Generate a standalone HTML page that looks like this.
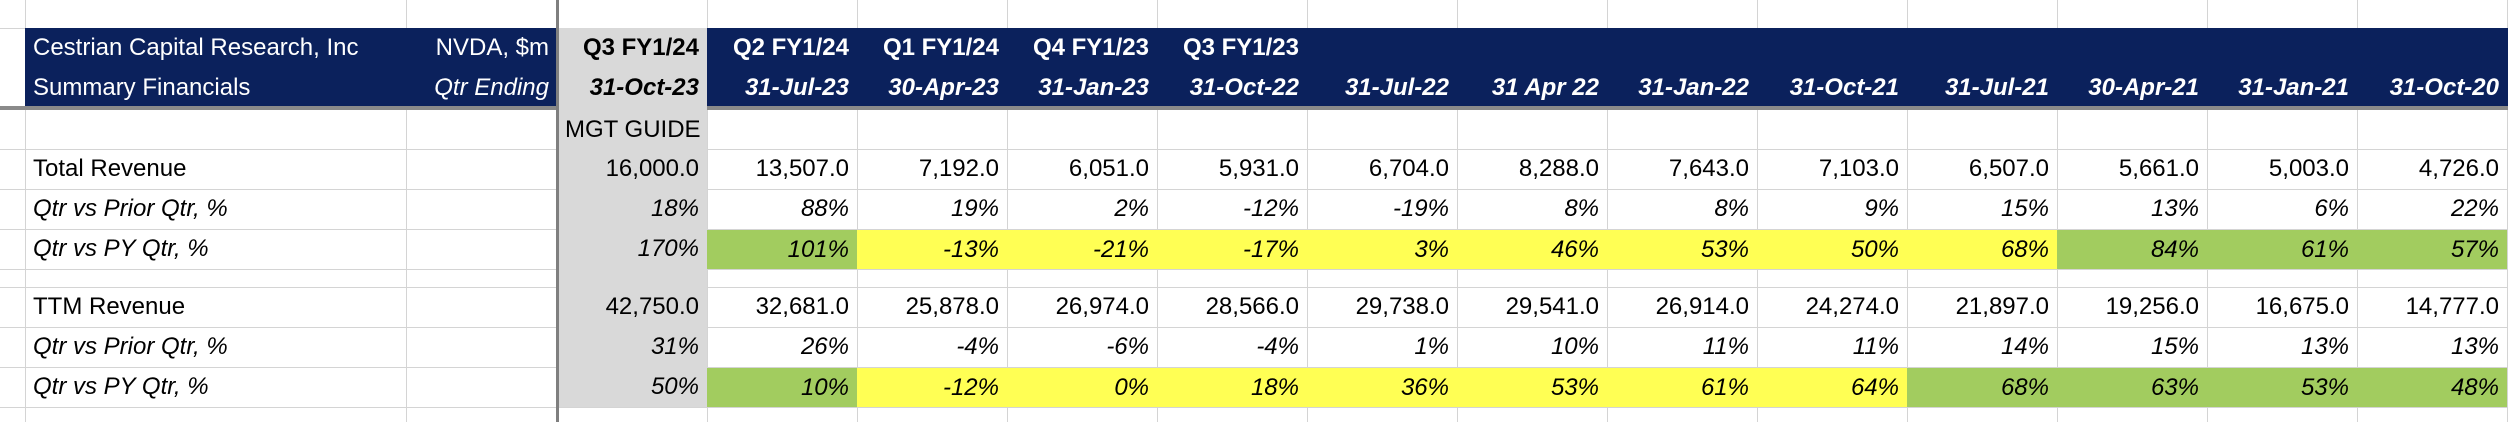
<!DOCTYPE html>
<html><head><meta charset="utf-8">
<style>
html,body{margin:0;padding:0;background:#fff;}
#sheet{position:relative;width:2508px;height:422px;overflow:hidden;font-family:"Liberation Sans",sans-serif;font-size:24px;color:#000;}
.c{position:absolute;box-sizing:border-box;white-space:nowrap;line-height:40px;padding:0 8px;overflow:hidden;}
.r{text-align:right;}
.i{font-style:italic;}
.hdr{color:#fff;}
.vl{position:absolute;top:0;width:1px;height:422px;background:#d4d4d4;}
.hl{position:absolute;left:0;height:1px;width:2508px;background:#d4d4d4;}
</style></head>
<body>
<div id="sheet"></div>
<script>
const quarterLabels=["Q3 FY1/24","Q2 FY1/24","Q1 FY1/24","Q4 FY1/23","Q3 FY1/23","","","","","","","",""];
const dates=["31-Oct-23","31-Jul-23","30-Apr-23","31-Jan-23","31-Oct-22","31-Jul-22","31 Apr 22","31-Jan-22","31-Oct-21","31-Jul-21","30-Apr-21","31-Jan-21","31-Oct-20"];
const totalRevenue=["16,000.0","13,507.0","7,192.0","6,051.0","5,931.0","6,704.0","8,288.0","7,643.0","7,103.0","6,507.0","5,661.0","5,003.0","4,726.0"];
const revQoQ=["18%","88%","19%","2%","-12%","-19%","8%","8%","9%","15%","13%","6%","22%"];
const revYoY=["170%","101%","-13%","-21%","-17%","3%","46%","53%","50%","68%","84%","61%","57%"];
const revYoYColor=["","g","y","y","y","y","y","y","y","y","g","g","g"];
const ttmRevenue=["42,750.0","32,681.0","25,878.0","26,974.0","28,566.0","29,738.0","29,541.0","26,914.0","24,274.0","21,897.0","19,256.0","16,675.0","14,777.0"];
const ttmQoQ=["31%","26%","-4%","-6%","-4%","1%","10%","11%","11%","14%","15%","13%","13%"];
const ttmYoY=["50%","10%","-12%","0%","18%","36%","53%","61%","64%","68%","63%","53%","48%"];
const ttmYoYColor=["","g","y","y","y","y","y","y","y","g","g","g","g"];

const S=document.getElementById('sheet');
const X0=557,CW=150;
const colors={g:"#a2cc5f",y:"#ffff54"};
function cell(x,y,w,h,txt,cls,bg,name){
  const d=document.createElement('div');
  d.className='c '+(cls||'');
  d.style.left=x+'px';d.style.top=y+'px';d.style.width=w+'px';d.style.height=h+'px';d.style.lineHeight=h+'px';
  if(bg)d.style.background=bg;
  d.textContent=txt;
  
  
  S.appendChild(d);return d;
}
// gridlines
const vx=[25,406];for(let k=1;k<=13;k++)vx.push(X0+CW*k);
vx.forEach(x=>{const l=document.createElement('div');l.className='vl';l.style.left=x+'px';

S.appendChild(l);});
const hy=[28,149,189,229,269,287,327,367,407];
hy.forEach(y=>{const l=document.createElement('div');l.className='hl';l.style.top=y+'px';

S.appendChild(l);});
// header background
const hb=document.createElement('div');hb.style.cssText='position:absolute;left:25px;top:28px;width:2483px;height:79px;background:#0b215c;';

S.appendChild(hb);
const gl=document.createElement('div');gl.style.cssText='position:absolute;left:0;top:106px;width:2508px;height:4px;background:#8a8a8a;';

S.appendChild(gl);
// gray guide column
const gc=document.createElement('div');gc.style.cssText='position:absolute;left:557px;top:28px;width:150px;height:379px;background:#d9d9d9;';

S.appendChild(gc);
// header labels
cell(25,28,381,40,"Cestrian Capital Research, Inc","hdr",null,"company-title");
cell(25,68,381,39,"Summary Financials","hdr",null,"sheet-subtitle");
cell(406,28,151,40,"NVDA, $m","hdr r",null,"ticker-units");
cell(406,68,151,39,"Qtr Ending","hdr r i",null,"qtr-ending-label");
for(let k=0;k<13;k++){
  const x=X0+CW*k;const hc=k===0?'':'hdr';
  const a=cell(x,28,CW,40,quarterLabels[k],'r '+hc,null,'quarter-label');a.style.fontWeight='bold';
  const b=cell(x,68,CW,39,dates[k],'r i '+hc,null,'quarter-date');b.style.fontWeight='bold';
}
cell(557,110,150,39,"MGT GUIDE","r",null,"mgt-guide-label");
// rows
const rows=[
 {y:149,label:"Total Revenue",it:false,vals:totalRevenue,col:null,name:"total-revenue"},
 {y:189,label:"Qtr vs Prior Qtr, %",it:true,vals:revQoQ,col:null,name:"revenue-qoq"},
 {y:229,label:"Qtr vs PY Qtr, %",it:true,vals:revYoY,col:revYoYColor,name:"revenue-yoy"},
 {y:287,label:"TTM Revenue",it:false,vals:ttmRevenue,col:null,name:"ttm-revenue"},
 {y:327,label:"Qtr vs Prior Qtr, %",it:true,vals:ttmQoQ,col:null,name:"ttm-qoq"},
 {y:367,label:"Qtr vs PY Qtr, %",it:true,vals:ttmYoY,col:ttmYoYColor,name:"ttm-yoy"}
];
rows.forEach(r=>{
  cell(25,r.y,381,40,r.label,r.it?'i':'',null,r.name+'-label');
  r.vals.forEach((v,k)=>{
    const bg=r.col&&r.col[k]?colors[r.col[k]]:null;
    cell(X0+CW*k,r.y+(bg?1:0),CW,bg?39:40,v,'r'+(r.it?' i':''),bg,r.name+'-value');
  });
});
// thick vertical divider
const dv=document.createElement('div');dv.style.cssText='position:absolute;left:556px;top:0;width:3px;height:422px;background:#7f7f7f;';

S.appendChild(dv);
</script>
</body></html>
